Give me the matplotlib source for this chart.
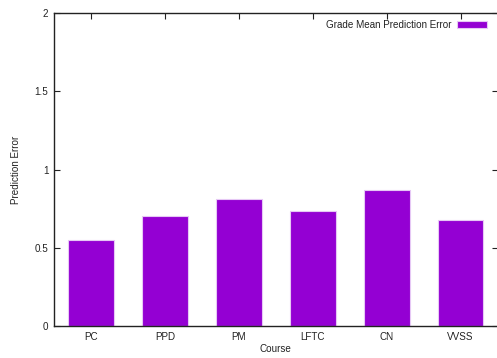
import numpy as np
import matplotlib
matplotlib.use("Agg")
import matplotlib.pyplot as plt

courses = ["PC", "PPD", "PM", "LFTC", "CN", "VVSS"]
mean_error = [0.55, 0.70, 0.81, 0.735, 0.87, 0.675]

plt.rcParams['font.family'] = ['Liberation Sans', 'DejaVu Sans']
plt.rcParams['font.size'] = 7.1

fig = plt.figure(figsize=(4.97, 3.58), dpi=100)
ax = fig.add_axes([54 / 497, 32 / 358, 443.5 / 497, 313 / 358])

x = np.arange(len(courses))
ax.bar(x, mean_error, width=0.62, color="#9400d3", edgecolor="#e6c8f5",
       linewidth=0.8, label="Grade Mean Prediction Error", zorder=2)

ax.set_xlim(-0.5, len(courses) - 0.5)
ax.set_ylim(0, 2)
ax.set_xticks(x)
ax.set_xticklabels(courses)
ax.set_yticks([0, 0.5, 1, 1.5, 2])
ax.set_yticklabels(["0", "0.5", "1", "1.5", "2"])
ax.tick_params(direction="in", length=4, width=0.8, top=True, right=True,
               colors="#222222", labelcolor="#222222", pad=4)
for s in ax.spines.values():
    s.set_linewidth(1.0)
    s.set_color("#222222")

ax.set_xlabel("Course", color="#222222", labelpad=2)
ax.set_ylabel("Prediction Error", color="#222222", labelpad=10)

leg = ax.legend(loc="upper right", frameon=False, markerfirst=False,
                handlelength=3.0, handleheight=0.6, borderaxespad=0.3,
                handletextpad=0.6, bbox_to_anchor=(0.992, 1.0))
for t in leg.get_texts():
    t.set_color("#222222")

fig.savefig("out.png", dpi=100)
